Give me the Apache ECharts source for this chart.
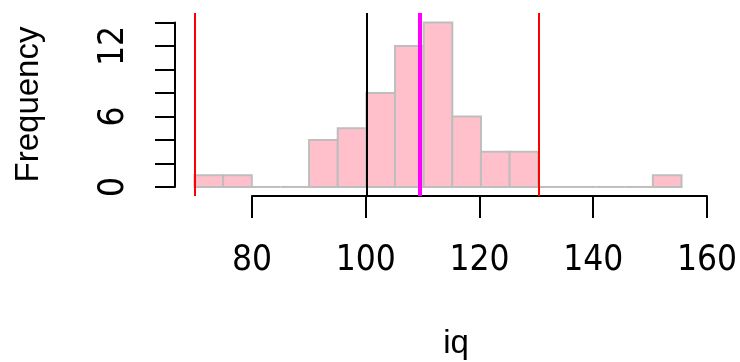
<!DOCTYPE html>
<html>
<head>
<meta charset="utf-8">
<script src="https://cdn.jsdelivr.net/npm/echarts@6/dist/echarts.min.js"></script>
<style>html,body{margin:0;padding:0;background:#fff}#c{width:740px;height:362px}</style>
</head>
<body>
<div id="c"></div>
<script>
// Histogram data: left edges of bins (width 5) and counts
const binStarts = [70, 75, 80, 85, 90, 95, 100, 105, 110, 115, 120, 125, 130, 135, 140, 145, 150];
const binWidth = 5;
const counts = [1, 1, 0, 0, 4, 5, 8, 12, 14, 6, 3, 3, 0, 0, 0, 0, 1];
// Vertical reference lines
const redLines = [70, 130];
const blackLines = [100];
const magentaLines = [109.3];
// Axis ticks
const xTicks = [80, 100, 120, 140, 160];
const yTickLabels = ['0', '6', '12'];
const xTitle = 'iq';
const yTitle = 'Frequency';

const digitFont = "'Liberation Sans Narrow', 'DejaVu Sans Condensed', 'Liberation Sans', sans-serif";
const titleFont = "'Liberation Sans', Arial, sans-serif";

const histData = binStarts.map((s, i) => [s, s + binWidth, counts[i]]);

const chart = echarts.init(document.getElementById('c'), null, {renderer: 'canvas'});
chart.setOption({
  animation: false,
  backgroundColor: '#ffffff',
  title: {
    text: xTitle, left: 451, top: 322, textAlign: 'center',
    textStyle: {fontFamily: titleFont, fontSize: 33, fontWeight: 'normal', color: '#000'}
  },
  grid: [
    {left: 175, top: 13, width: 526, height: 183},
    {left: 252, top: 13, width: 458, height: 183},
    {left: 175, top: 22.5, width: 10, height: 164.5}
  ],
  xAxis: [
    {gridIndex: 0, type: 'value', min: 66.6, max: 158.4, show: false},
    {gridIndex: 1, type: 'value', min: xTicks[0], max: xTicks[xTicks.length - 1], interval: 20,
     position: 'bottom',
     axisLine: {show: true, lineStyle: {color: '#000', width: 2}},
     axisTick: {show: true, length: 22, lineStyle: {color: '#000', width: 2}},
     axisLabel: {show: true, margin: 47, color: '#000', fontSize: 35, fontFamily: digitFont},
     splitLine: {show: false}},
    {gridIndex: 2, type: 'value', show: false}
  ],
  yAxis: [
    {gridIndex: 0, type: 'value', min: -0.77, max: 14.81, show: true,
     axisLine: {show: false}, axisTick: {show: false}, axisLabel: {show: false}, splitLine: {show: false},
     name: yTitle, nameLocation: 'middle', nameRotate: 90, nameGap: 130,
     nameTextStyle: {fontFamily: titleFont, fontSize: 33, color: '#000'}},
    {gridIndex: 1, type: 'value', show: false},
    {gridIndex: 2, type: 'value', min: 0, max: 14, interval: 2, position: 'left',
     axisLine: {show: true, lineStyle: {color: '#000', width: 2}},
     axisTick: {show: true, length: 20, lineStyle: {color: '#000', width: 2}},
     axisLabel: {show: true, rotate: 90, margin: 44, color: '#000', fontSize: 35, fontFamily: digitFont,
       formatter: v => (yTickLabels.indexOf(String(v)) >= 0 ? String(v) : '')},
     splitLine: {show: false}}
  ],
  series: [
    {
      type: 'custom', xAxisIndex: 0, yAxisIndex: 0, data: histData, z: 2,
      renderItem: function (params, api) {
        const x0 = api.value(0), x1 = api.value(1), c = api.value(2);
        const p0 = api.coord([x0, 0]);
        const p1 = api.coord([x1, c]);
        if (c === 0) {
          return {type: 'line', shape: {x1: p0[0], y1: p0[1], x2: p1[0], y2: p0[1]},
                  style: {stroke: '#BEBEBE', lineWidth: 2}};
        }
        return {type: 'rect',
                shape: {x: p0[0], y: p1[1], width: p1[0] - p0[0], height: p0[1] - p1[1]},
                style: {fill: '#FFC0CB', stroke: '#BEBEBE', lineWidth: 2}};
      }
    },
    {
      type: 'line', xAxisIndex: 0, yAxisIndex: 0, data: [], z: 5,
      markLine: {silent: true, symbol: 'none', label: {show: false},
        data: redLines.map(v => ({xAxis: v, lineStyle: {color: '#FF0000', width: 2, type: 'solid'}}))
          .concat(blackLines.map(v => ({xAxis: v, lineStyle: {color: '#000000', width: 2, type: 'solid'}})))
          .concat(magentaLines.map(v => ({xAxis: v, lineStyle: {color: '#FF00FF', width: 4, type: 'solid'}})))
      }
    }
  ]
});
</script>
</body>
</html>
